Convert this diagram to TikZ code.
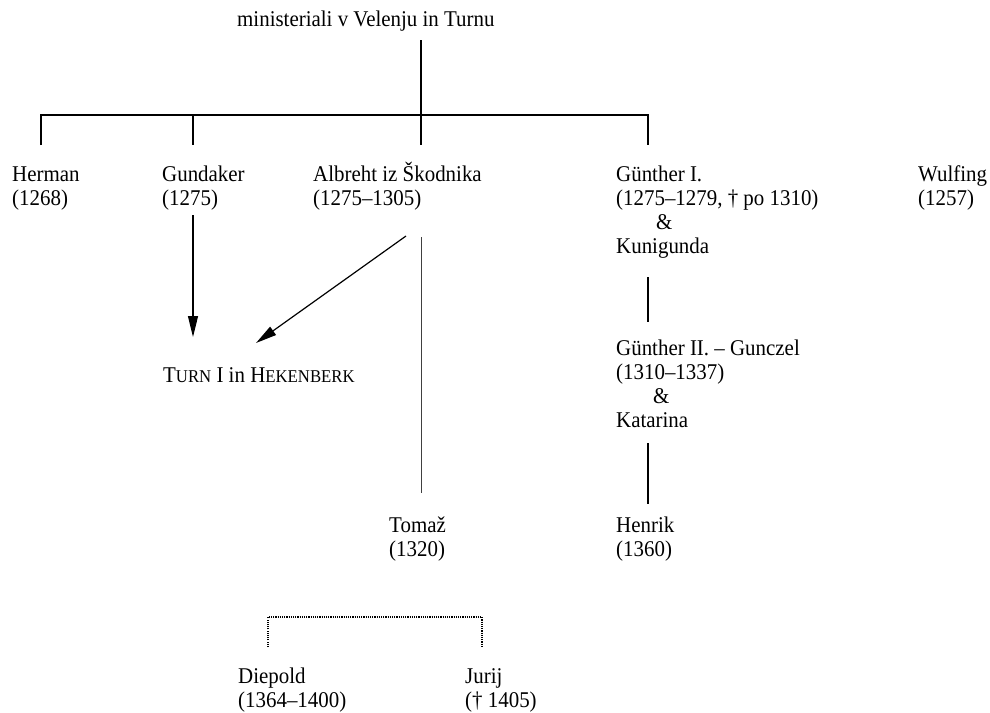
\documentclass[tikz,border=0pt]{standalone}
\usepackage{fontspec}
\setmainfont{Liberation Serif}[FakeStretch=0.93]
\usetikzlibrary{arrows.meta}
\newcommand\stk[1]{\begin{tabular}[t]{@{}l@{}}#1\end{tabular}}
\newcommand\smc[1]{{\fontsize{18}{24}\selectfont #1}}
\begin{document}
\begin{tikzpicture}[x=1pt,y=-1pt,
  lbl/.style={anchor=base west, inner sep=0pt, font=\fontsize{22.5}{24}\selectfont},
  ln/.style={line width=1.5pt},
  thinln/.style={line width=0.8pt, black!75},
  arr/.style={line width=1.2pt, -{Triangle[length=21pt,width=10pt]}},
  dotln/.style={line width=1.2pt, dash pattern=on 1.1pt off 1.1pt}]
\useasboundingbox (0,0) rectangle (990,712);
% texts
\node[lbl] (title) at (237,27) {ministeriali v Velenju in Turnu};
\node[lbl] (herman) at (12,181) {\stk{Herman\\(1268)}};
\node[lbl] (gundaker) at (162,181) {\stk{Gundaker\\(1275)}};
\node[lbl] (albreht) at (313,181) {\stk{Albreht iz Škodnika\\(1275–1305)}};
\node[lbl] (gunther1) at (616,181) {\stk{Günther I.\\(1275–1279, † po 1310)\\\hspace{40pt}\&\\Kunigunda}};
\node[lbl] (wulfing) at (918,181) {\stk{Wulfing\\(1257)}};
\node[lbl] (turn) at (163,382) {T\smc{URN} I in H\smc{EKENBERK}};
\node[lbl] (gunther2) at (616,355) {\stk{Günther II. – Gunczel\\(1310–1337)\\\hspace{37pt}\&\\Katarina}};
\node[lbl] (tomaz) at (389,532) {\stk{Tomaž\\(1320)}};
\node[lbl] (henrik) at (616,532) {\stk{Henrik\\(1360)}};
\node[lbl] (diepold) at (238,683) {\stk{Diepold\\(1364–1400)}};
\node[lbl] (jurij) at (465,683) {\stk{Jurij\\(† 1405)}};
% tree coordinates
\coordinate (t0) at (421,40);
\coordinate (bar) at (421,115);
\coordinate (hA) at (41,115);  \coordinate (hB) at (41,145);
\coordinate (gA) at (193,115); \coordinate (gB) at (193,145);
\coordinate (aB) at (421,145);
\coordinate (uA) at (648,115); \coordinate (uB) at (648,145);
\draw[ln] (t0) -- (bar);
\draw[ln] (hB) -- (hA) -- (uA) -- (uB);
\draw[ln] (gA) -- (gB);
\draw[ln] (bar) -- (aB);
% arrows
\coordinate (gs) at (193,215); \coordinate (ge) at (193,337);
\draw[arr] (gs) -- (ge);
\coordinate (as) at (406,236); \coordinate (ae) at (256,343);
\draw[arr] (as) -- (ae);
% Albreht to Tomaz
\coordinate (ts) at (421,237); \coordinate (te) at (421,493);
\draw[thinln] (ts) -- (te);
% Gunther line
\coordinate (k1) at (648,277); \coordinate (k2) at (648,322);
\draw[ln] (k1) -- (k2);
\coordinate (k3) at (648,443); \coordinate (k4) at (648,504);
\draw[ln] (k3) -- (k4);
% dotted bracket
\coordinate (d1) at (268,647); \coordinate (d2) at (268,617);
\coordinate (d3) at (482,617); \coordinate (d4) at (482,647);
\draw[dotln] (d1) -- (d2) -- (d3) -- (d4);
\end{tikzpicture}
\end{document}
